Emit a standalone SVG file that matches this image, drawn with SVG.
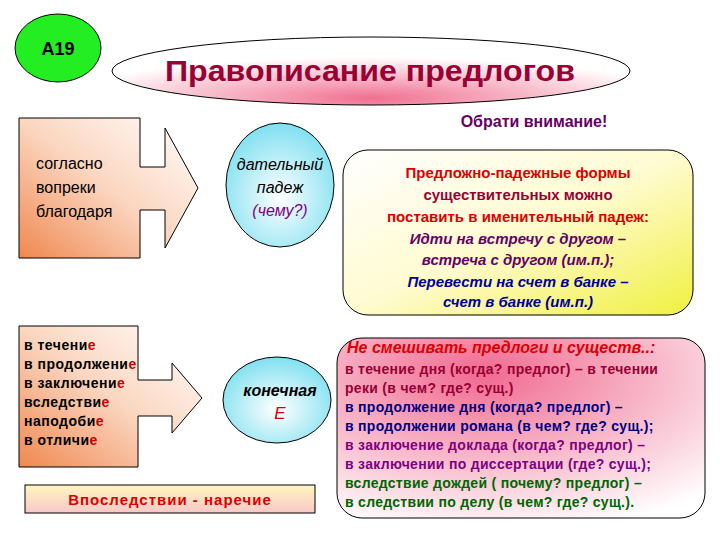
<svg xmlns="http://www.w3.org/2000/svg" width="720" height="540" viewBox="0 0 720 540">
<defs>
<radialGradient id="gPink" cx="0.5" cy="0.9" r="0.6"><stop offset="0" stop-color="#f07090"/><stop offset="1" stop-color="#ffffff"/></radialGradient>
<linearGradient id="gOrange" x1="1" y1="0" x2="0" y2="1"><stop offset="0" stop-color="#ffffff"/><stop offset="0.5" stop-color="#fbd6c0"/><stop offset="1" stop-color="#f08850"/></linearGradient>
<radialGradient id="gCyan" cx="0.5" cy="0.6" r="0.6"><stop offset="0" stop-color="#ffffff"/><stop offset="1" stop-color="#7fe0f0"/></radialGradient>
<linearGradient id="gYellow" x1="0" y1="0" x2="1" y2="1"><stop offset="0" stop-color="#ffffff"/><stop offset="0.5" stop-color="#fffbd0"/><stop offset="1" stop-color="#f0f040"/></linearGradient>
<radialGradient id="gPink2" cx="0.4" cy="0.2" r="0.9"><stop offset="0" stop-color="#f06a90"/><stop offset="1" stop-color="#ffffff"/></radialGradient>
<linearGradient id="gBar" x1="0" y1="0" x2="0" y2="1"><stop offset="0" stop-color="#fff6c0"/><stop offset="1" stop-color="#f8c8c8"/></linearGradient>
</defs>
<style>
text{font-family:"Liberation Sans",Arial,sans-serif}
.b{font-weight:bold}.i{font-style:italic}
.s{stroke:#000;stroke-width:1}
.c{text-anchor:middle}
</style>
<rect width="720" height="540" fill="#fff"/>
<g id="a19"><ellipse cx="58" cy="48" rx="43" ry="34" fill="#22ee22" class="s"/><text x="58" y="55" class="c b" font-size="18">A19</text></g>
<g id="title"><ellipse cx="371" cy="71" rx="259" ry="34" fill="url(#gPink)" class="s"/><text x="165" y="81" class="b" font-size="30" fill="#990033" textLength="410" lengthAdjust="spacingAndGlyphs">Правописание предлогов</text></g>
<g id="attention"><text x="534" y="127" class="c b" font-size="16" fill="#660066">Обрати внимание!</text></g>
<g id="arrow1"><path d="M19,118 H140 V167 H165 V128 L198,188 L165,248 V210 H140 V258 H19 Z" fill="url(#gOrange)" class="s"/>
<g font-size="16"><text x="36" y="169">согласно</text><text x="36" y="193">вопреки</text><text x="36" y="217">благодаря</text></g></g>
<g id="dative"><ellipse cx="280" cy="185" rx="54" ry="62" fill="url(#gCyan)" class="s"/>
<text x="280" y="170" class="c i" font-size="16">дательный</text><text x="280" y="193" class="c i" font-size="16">падеж</text><text x="280" y="216" class="c i" font-size="16" fill="#800080">(чему?)</text></g>
<g id="note1"><rect x="343" y="150" width="350" height="165" rx="25" fill="url(#gYellow)" class="s"/>
<g class="c b" font-size="15"><text x="518" y="178" fill="#dd0000">Предложно-падежные формы</text><text x="518" y="200" fill="#990033">существительных можно</text><text x="518" y="222" fill="#dd0000">поставить в именительный падеж:</text>
<text x="518" y="244" class="i" fill="#660066">Идти на встречу с другом –</text><text x="518" y="265" class="i" fill="#660066">встреча с другом (им.п.);</text>
<text x="518" y="287" class="i" fill="#000099">Перевести на счет в банке –</text><text x="518" y="307" class="i" fill="#000099">счет в банке (им.п.)</text></g></g>
<g id="arrow2"><path d="M19,326 H138 V380 H172 V363 L202,398 L172,433 V416 H138 V467 H19 Z" fill="url(#gOrange)" class="s"/>
<g font-size="14" class="b" letter-spacing="0.5"><text x="24" y="350">в течени<tspan fill="#cc0000">е</tspan></text><text x="24" y="369">в продолжени<tspan fill="#cc0000">е</tspan></text><text x="24" y="388">в заключени<tspan fill="#cc0000">е</tspan></text><text x="24" y="407">вследстви<tspan fill="#cc0000">е</tspan></text><text x="24" y="426">наподоби<tspan fill="#cc0000">е</tspan></text><text x="24" y="445">в отличи<tspan fill="#cc0000">е</tspan></text></g></g>
<g id="final"><ellipse cx="277" cy="400" rx="54" ry="43" fill="url(#gCyan)" class="s"/>
<text x="280" y="396" class="c b i" font-size="16">конечная</text><text x="280" y="419" class="c i" font-size="17" fill="#cc0000">Е</text></g>
<g id="adverb"><rect x="25" y="485" width="290" height="28" fill="url(#gBar)" class="s"/><text x="170" y="505" class="c b" font-size="15" fill="#dd0000" letter-spacing="1">Впоследствии - наречие</text></g>
<g id="note2"><rect x="337" y="338" width="368" height="180" rx="25" fill="url(#gPink2)" class="s"/>
<text x="347" y="353" class="b i" font-size="16" fill="#dd0000">Не смешивать предлоги и существ..:</text>
<g font-size="14" class="b" letter-spacing="0.3"><text x="345" y="374" fill="#990033">в течение дня (когда? предлог) – в течении</text><text x="345" y="393" fill="#990033">реки (в чем? где? сущ.)</text>
<text x="345" y="412" fill="#000080">в продолжение дня (когда? предлог) –</text><text x="345" y="431" fill="#000080">в продолжении романа (в чем? где? сущ.);</text>
<text x="345" y="450" fill="#800080">в заключение доклада (когда? предлог) –</text><text x="345" y="469" fill="#800080">в заключении по диссертации (где? сущ.);</text>
<text x="345" y="488" fill="#006600">вследствие дождей ( почему? предлог) –</text><text x="345" y="507" fill="#006600">в следствии по делу (в чем? где? сущ.).</text></g></g>
</svg>
